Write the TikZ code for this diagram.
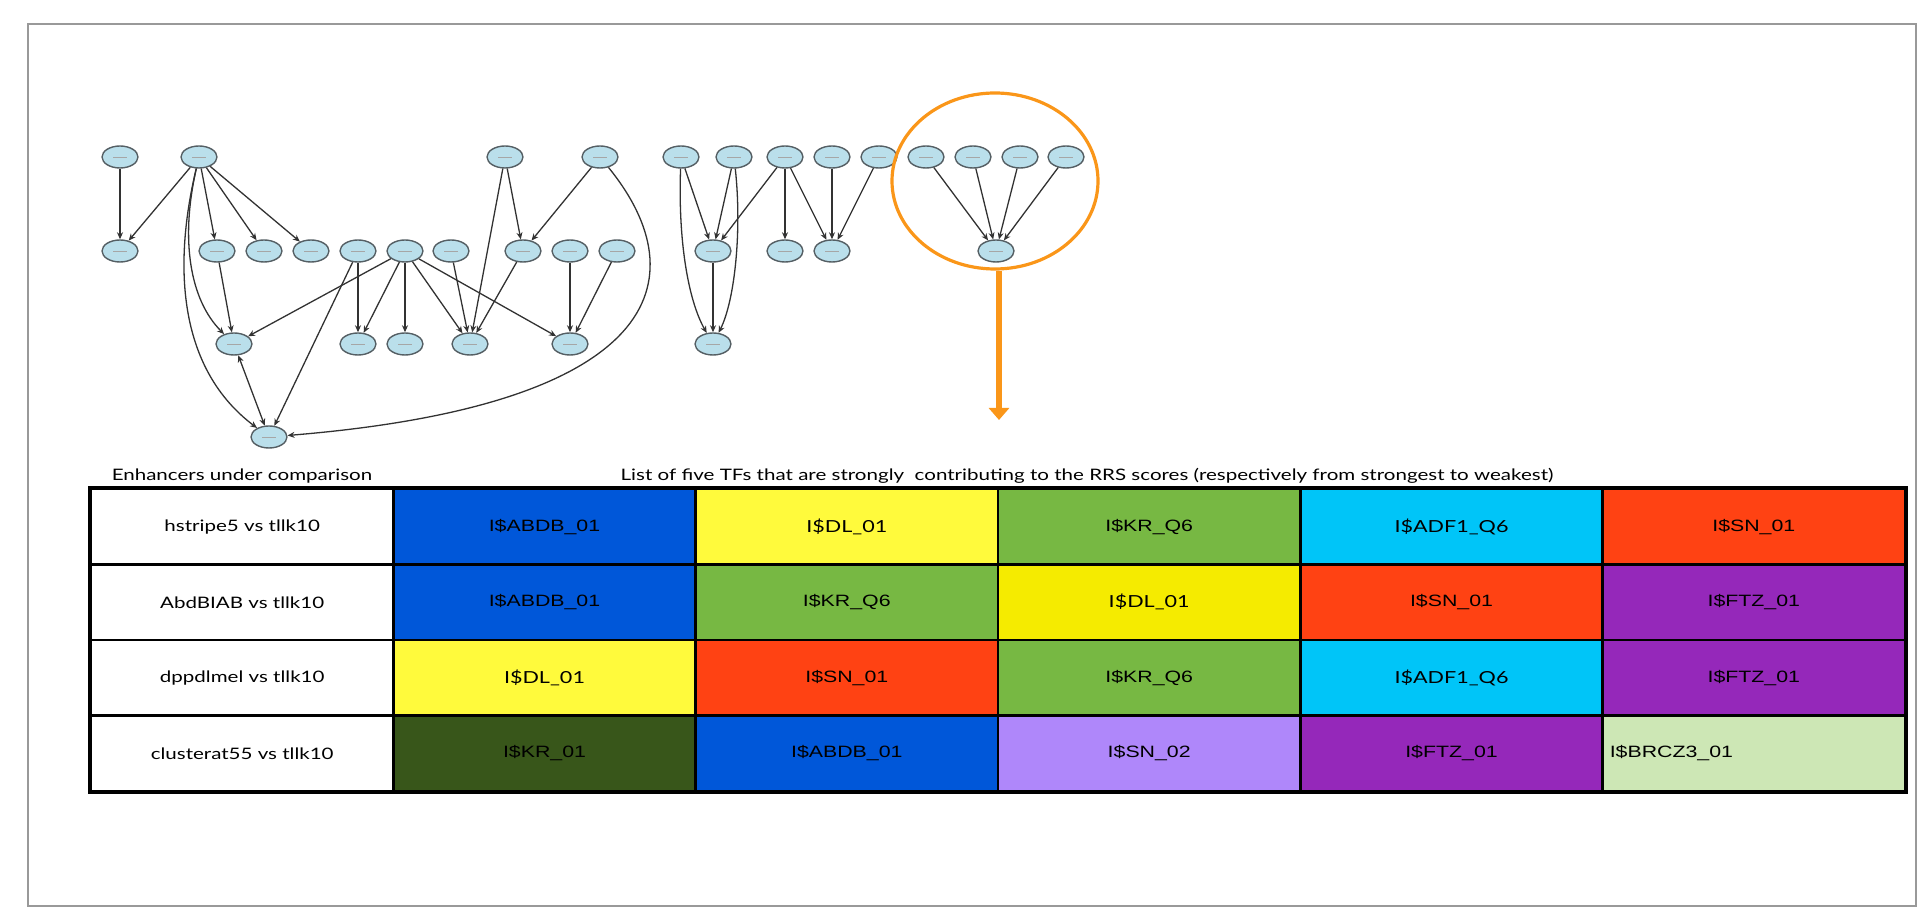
\documentclass[tikz,border=0pt]{standalone}
\usepackage{fontspec}
\setmainfont[FakeStretch=1.3]{Lato}
\newfontfamily\helv[FakeStretch=1.3]{Liberation Sans}
\usetikzlibrary{shapes.geometric,arrows.meta}
\definecolor{nodeblue}{RGB}{186,223,235}
\definecolor{nodeline}{RGB}{85,95,100}
\definecolor{edgegrey}{RGB}{50,50,50}
\definecolor{hlorange}{RGB}{250,150,25}
\definecolor{tfblue}{RGB}{0,87,217}
\definecolor{tfyellow}{RGB}{255,250,60}
\definecolor{tfyellowdark}{RGB}{245,235,0}
\definecolor{tfgreen}{RGB}{119,184,67}
\definecolor{tfcyan}{RGB}{0,197,248}
\definecolor{tfred}{RGB}{255,66,19}
\definecolor{tfpurple}{RGB}{149,40,186}
\definecolor{tfdarkgreen}{RGB}{56,86,26}
\definecolor{tflavender}{RGB}{175,135,250}
\definecolor{tflightgreen}{RGB}{205,231,181}
\newcommand{\tfmark}{{\color{black!35}\rule{7pt}{0.4pt}}}

\begin{document}
\begin{tikzpicture}[x=0.5pt,y=-0.5pt,
  tf/.style={ellipse,draw=nodeline,fill=nodeblue,line width=0.7pt,minimum width=18pt,minimum height=11pt,inner sep=0pt},
  edge/.style={draw=edgegrey,line width=0.65pt,->},
  >={Stealth[length=3.5pt,width=3pt]},
  cell/.style={draw=black,line width=1.2pt,minimum width=151.17pt,minimum height=37.75pt,inner sep=0pt,font=\helv\fontsize{8.2}{10}\selectfont},
  gillcell/.style={cell,font=\fontsize{8.3}{10}\selectfont},
  namecell/.style={cell,fill=white,font=\fontsize{7.9}{10}\selectfont},
  head/.style={inner sep=0pt,font=\fontsize{7.9}{10}\selectfont}]
\useasboundingbox (0,0) rectangle (1924,908);
\draw[black!40,line width=1pt] (28,24) rectangle (1916,906);

% network
\foreach \n/\x in {1/120,2/199,3/505,4/600,5/681,6/734,7/785,8/832,9/879,10/926,11/973,12/1020,13/1066}
  \node[tf] (t\n) at (\x,157) {\tfmark};
\foreach \n/\x in {1/120,2/217,3/264,4/311,5/358,6/405,7/451,8/523,9/570,10/617,11/713,12/785,13/832,14/996}
  \node[tf] (m\n) at (\x,251) {\tfmark};
\foreach \n/\x in {1/234,2/358,3/405,4/470,5/570,6/713}
  \node[tf] (l\n) at (\x,344) {\tfmark};
\node[tf] (b1) at (269,437) {\tfmark};

\foreach \a/\b in {t1/m1,t2/m1,t2/m2,t2/m3,t2/m4,m2/l1,m5/l2,m5/b1,m6/l1,m6/l2,m6/l3,m6/l4,m6/l5,
    m7/l4,t3/l4,t3/m8,t4/m8,m8/l4,m9/l5,m10/l5,
    t5/m11,t6/m11,t7/m11,t7/m12,t7/m13,t8/m13,t9/m13,t10/m14,t11/m14,t12/m14,t13/m14,m11/l6}
  \draw[edge] (\a) -- (\b);
\draw[edge] (t2) .. controls (180,240) and (190,300) .. (l1);
\draw[edge] (t2) .. controls (172,270) and (180,370) .. (b1);
\draw[edge] (t4) .. controls (700,280) and (660,405) .. (b1);
\draw[edge] (t5) .. controls (678,240) and (688,300) .. (l6);
\draw[edge] (t6) .. controls (742,230) and (735,300) .. (l6);
\draw[edge,<->] (l1) -- (b1);

% highlighted group
\node[ellipse,draw=hlorange,line width=1.6pt,minimum width=103pt,minimum height=88pt,inner sep=0pt] (focus) at (995,181) {};
\coordinate (focustip) at (999,420);
\draw[hlorange,line width=2.6pt,-{Triangle[length=6pt,width=10pt]}] (focus.south -| focustip) -- (focustip);

% table
\node[head] (hdrenh) at (242,476) {Enhancers under comparison};
\node[head] (hdrtf) at (1087,476) {List of five TFs that are strongly~ contributing to the RRS scores (respectively from strongest to weakest)};

\node[namecell] (c11) at (242.2,526.75) {hstripe5 vs tllk10};
\node[cell,fill=tfblue] (c12) at (544.5,526.75) {I\$ABDB\_01};
\node[gillcell,fill=tfyellow] (c13) at (846.8,526.75) {I\$DL\_01};
\node[cell,fill=tfgreen] (c14) at (1149.2,526.75) {I\$KR\_Q6};
\node[gillcell,fill=tfcyan] (c15) at (1451.5,526.75) {I\$ADF1\_Q6};
\node[cell,fill=tfred] (c16) at (1753.8,526.75) {I\$SN\_01};

\node[namecell] (c21) at (242.2,602.25) {AbdBIAB vs tllk10};
\node[cell,fill=tfblue] (c22) at (544.5,602.25) {I\$ABDB\_01};
\node[cell,fill=tfgreen] (c23) at (846.8,602.25) {I\$KR\_Q6};
\node[gillcell,fill=tfyellowdark] (c24) at (1149.2,602.25) {I\$DL\_01};
\node[cell,fill=tfred] (c25) at (1451.5,602.25) {I\$SN\_01};
\node[cell,fill=tfpurple] (c26) at (1753.8,602.25) {I\$FTZ\_01};

\node[namecell] (c31) at (242.2,677.75) {dppdlmel vs tllk10};
\node[gillcell,fill=tfyellow] (c32) at (544.5,677.75) {I\$DL\_01};
\node[cell,fill=tfred] (c33) at (846.8,677.75) {I\$SN\_01};
\node[cell,fill=tfgreen] (c34) at (1149.2,677.75) {I\$KR\_Q6};
\node[gillcell,fill=tfcyan] (c35) at (1451.5,677.75) {I\$ADF1\_Q6};
\node[cell,fill=tfpurple] (c36) at (1753.8,677.75) {I\$FTZ\_01};

\node[namecell] (c41) at (242.2,753.25) {clusterat55 vs tllk10};
\node[cell,fill=tfdarkgreen] (c42) at (544.5,753.25) {I\$KR\_01};
\node[cell,fill=tfblue] (c43) at (846.8,753.25) {I\$ABDB\_01};
\node[cell,fill=tflavender] (c44) at (1149.2,753.25) {I\$SN\_02};
\node[cell,fill=tfpurple] (c45) at (1451.5,753.25) {I\$FTZ\_01};
\node[cell,fill=tflightgreen,text width=144pt,align=left] (c46) at (1753.8,753.25) {I\$BRCZ3\_01};

\draw[black,line width=1.5pt] (c11.north west) rectangle (c46.south east);
\end{tikzpicture}
\end{document}
